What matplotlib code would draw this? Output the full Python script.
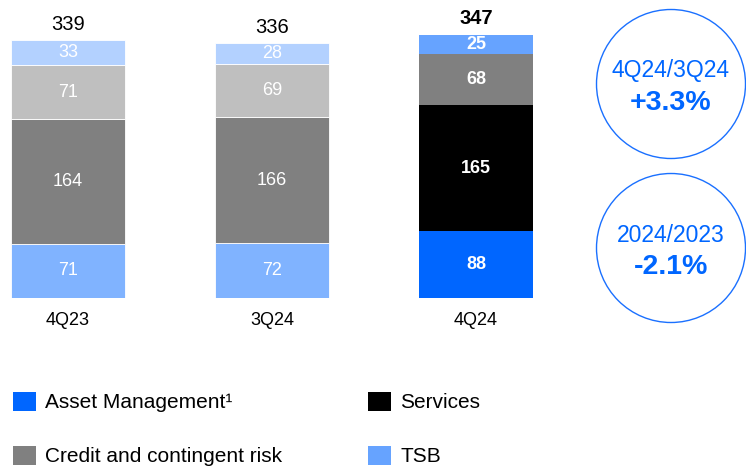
import matplotlib
matplotlib.use("Agg")
import matplotlib.pyplot as plt
from matplotlib.patches import Patch, Circle

plt.rcParams['font.family'] = ['Liberation Sans', 'DejaVu Sans']

categories = ["4Q23", "3Q24", "4Q24"]
asset_mgmt = [71, 72, 88]
services = [164, 166, 165]
credit_risk = [71, 69, 68]
tsb = [33, 28, 25]
totals = [339, 336, 347]
series_names = ["Asset Management\u00b9", "Services", "Credit and contingent risk", "TSB"]
circle_titles = ["4Q24/3Q24", "2024/2023"]
circle_values = ["+3.3%", "-2.1%"]

# colours: faded for prior periods, bold for current
bold_cols = ["#0066FF", "#000000", "#808080", "#66A3FF"]
faded_cols = ["#80B3FF", "#808080", "#BFBFBF", "#B3D1FF"]

W, H = 746, 468
fig = plt.figure(figsize=(W / 100, H / 100), dpi=100)

# bar axes positioned in pixels
px_per_unit = 0.761
base_px = 298
ymax = 390
top_px = base_px - ymax * px_per_unit
spacing_px = 204
c0 = 68
left_px, right_px = 0, 560
ax = fig.add_axes([left_px / W, (H - base_px) / H, (right_px - left_px) / W, (base_px - top_px) / H])
ax.set_ylim(0, ymax)
ax.set_xlim((left_px - c0) / spacing_px, (right_px - c0) / spacing_px)
ax.axis('off')

x = list(range(len(categories)))
width = 114 / spacing_px
series = [asset_mgmt, services, credit_risk, tsb]
bottoms = [0] * len(categories)
for si, vals in enumerate(series):
    for i, v in enumerate(vals):
        current = (i == len(categories) - 1)
        col = bold_cols[si] if current else faded_cols[si]
        ax.bar(x[i], v, width=width, bottom=bottoms[i], color=col,
               edgecolor='white' if not current else col, linewidth=0.6 if not current else 0)
        ax.text(x[i], bottoms[i] + v / 2, str(v), ha='center', va='center',
                color='white', fontsize=13, fontweight='bold' if current else 'normal')
    bottoms = [b + v for b, v in zip(bottoms, vals)]

for i, t in enumerate(totals):
    current = (i == len(categories) - 1)
    ax.annotate(str(t), (x[i], t), xytext=(0, 11), textcoords='offset points',
                ha='center', va='center', fontsize=14.5, color='black',
                fontweight='bold' if current else 'normal')
    ax.annotate(categories[i], (x[i], 0), xytext=(0, -16), textcoords='offset points',
                ha='center', va='center', fontsize=13, color='black')

# overlay axes in pixel coordinates for circles
ov = fig.add_axes([0, 0, 1, 1], zorder=-1)
ov.set_xlim(0, W)
ov.set_ylim(H, 0)
ov.axis('off')
blue = "#0066FF"
centers = [(671, 84), (671, 248)]
for (cx, cy), ttl, val in zip(centers, circle_titles, circle_values):
    ov.add_patch(Circle((cx, cy), 74.5, fill=False, edgecolor="#1A70FF", linewidth=1.0))
    ov.text(cx, cy - 13, ttl, ha='center', va='center', fontsize=16.5, color=blue)
    ov.text(cx, cy + 19, val, ha='center', va='center', fontsize=20.5, color=blue, fontweight='bold')

# legend entries, one per item, placed on a 2x2 grid
h = [Patch(facecolor=c, edgecolor='none') for c in bold_cols]
common = dict(frameon=False, fontsize=15, handlelength=1.1, handleheight=1.06,
              handletextpad=0.45, borderaxespad=0, borderpad=0)
slots = [(13, 402), (368, 402), (13, 456), (368, 456)]
for idx, (lx, ly) in zip([0, 1, 2, 3], slots):
    fig.legend([h[idx]], [series_names[idx]], loc='center left',
               bbox_to_anchor=(lx / W, 1 - ly / H), **common)

fig.savefig("out.png", dpi=100)
